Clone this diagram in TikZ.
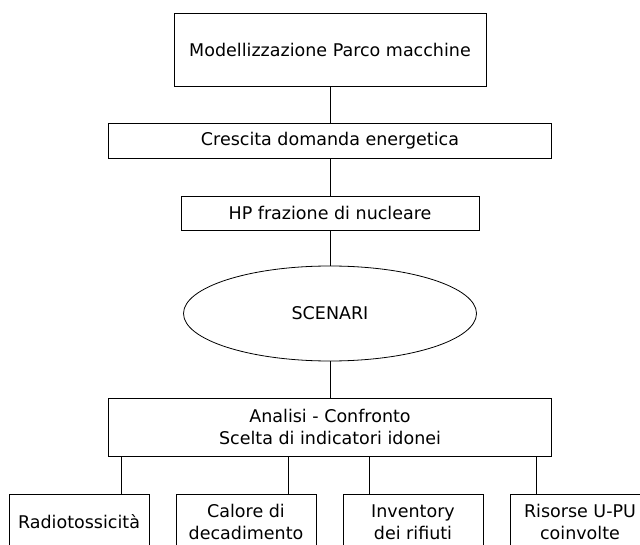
\documentclass[tikz,border=0pt]{standalone}
\usepackage{fontspec}
\setmainfont{DejaVu Sans}
\usetikzlibrary{shapes.geometric}
\begin{document}
\begin{tikzpicture}[x=1pt,y=-1pt,
  every node/.style={font=\fontsize{17.5}{22}\selectfont, align=center, inner sep=0pt},
  box/.style={draw, line width=0.8pt, rectangle},
  oval/.style={draw, line width=0.8pt, ellipse},
  link/.style={line width=0.8pt}]
\useasboundingbox (0,0) rectangle (640,545);
\clip (0,0) rectangle (640,545);
\node[box, minimum width=312pt, minimum height=73pt] (top) at (330,49.5) {Modellizzazione Parco macchine};
\node[box, minimum width=443pt, minimum height=35pt] (cresc) at (330,140.5) {Crescita domanda energetica};
\node[box, minimum width=298pt, minimum height=34pt] (hp) at (330,213) {HP frazione di nucleare};
\node[oval, minimum width=293pt, minimum height=95pt] (scen) at (330,313.5) {SCENARI};
\node[box, minimum width=443pt, minimum height=58pt] (anal) at (330,427) {Analisi - Confronto\\Scelta di indicatori idonei};
\node[box, minimum width=140pt, minimum height=56pt] (radio) at (79,522) {Radiotossicità};
\node[box, minimum width=140pt, minimum height=56pt] (calore) at (246,522) {Calore di\\decadimento};
\node[box, minimum width=140pt, minimum height=56pt] (inv) at (413,522) {Inventory\\dei rifiuti};
\node[box, minimum width=140pt, minimum height=56pt] (ris) at (580,522) {Risorse U-PU\\coinvolte};
\draw[link] (top.south) -- (cresc.north);
\draw[link] (cresc.south) -- (hp.north);
\draw[link] (hp.south) -- (scen.north);
\draw[link] (scen.south) -- (anal.north);
\coordinate (c1) at (121,0);
\coordinate (c2) at (288,0);
\coordinate (c3) at (369,0);
\coordinate (c4) at (536,0);
\draw[link] (anal.south -| c1) -- (radio.north -| c1);
\draw[link] (anal.south -| c2) -- (calore.north -| c2);
\draw[link] (anal.south -| c3) -- (inv.north -| c3);
\draw[link] (anal.south -| c4) -- (ris.north -| c4);
\end{tikzpicture}
\end{document}
